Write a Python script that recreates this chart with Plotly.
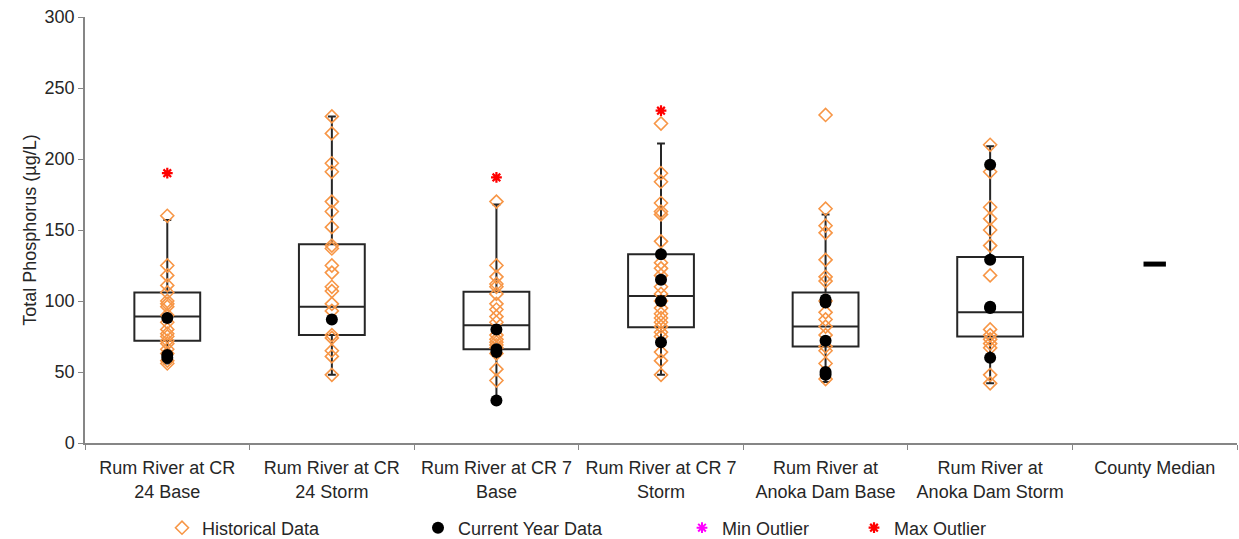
import plotly.graph_objects as go

# ---- data ----
categories = ["CR24 Base", "CR24 Storm", "CR7 Base", "CR7 Storm",
              "Anoka Base", "Anoka Storm", "County Median"]
tick_labels = ["Rum River at CR<br>24 Base", "Rum River at CR<br>24 Storm",
               "Rum River at CR 7<br>Base", "Rum River at CR 7<br>Storm",
               "Rum River at<br>Anoka Dam Base", "Rum River at<br>Anoka Dam Storm",
               "County Median"]

box_sites = categories[:6]
q1 = [72, 76, 66, 81.5, 68, 75]
median = [89, 96, 83, 103.5, 82, 92]
q3 = [106, 140, 106.5, 133, 106, 131]
lower_whisker = [56, 48, 30, 48, 43, 42]
upper_whisker = [157, 230, 168, 211, 161, 209]

historical = {
    "CR24 Base": [160, 125, 118, 111, 106, 100, 98, 96, 90, 85, 80, 77, 75, 72, 70, 66, 63, 58, 56],
    "CR24 Storm": [230, 218, 197, 191, 170, 163, 152, 139, 137, 125, 120, 110, 107, 98, 93, 76, 74, 65, 61, 48],
    "CR7 Base": [170, 125, 117, 112, 110, 105, 98, 94, 89, 85, 76, 73, 71, 69, 67, 63, 52, 44],
    "CR7 Storm": [225, 190, 184, 169, 163, 161, 142, 127, 123, 118, 110, 105, 100, 95, 91, 88, 85, 82, 78, 75, 64, 58, 48],
    "Anoka Base": [231, 165, 153, 148, 129, 117, 114, 100, 92, 87, 82, 76, 68, 65, 56, 45],
    "Anoka Storm": [210, 191, 166, 158, 150, 139, 118, 80, 76, 73, 70, 67, 48, 42],
}
current = {
    "CR24 Base": [88, 62, 60],
    "CR24 Storm": [87],
    "CR7 Base": [80, 66, 64, 30],
    "CR7 Storm": [133, 115, 100, 71],
    "Anoka Base": [101, 99, 72, 50, 48],
    "Anoka Storm": [196, 129, 96, 95, 60],
}
max_outliers = {"CR24 Base": [190], "CR7 Base": [187], "CR7 Storm": [234]}
min_outliers = {}
county_median = 126

ORANGE = "#F79646"
FONT = "Liberation Sans, Arial, sans-serif"
TXT = "#262626"

fig = go.Figure()

fig.add_trace(go.Box(
    x=box_sites, q1=q1, median=median, q3=q3,
    lowerfence=lower_whisker, upperfence=upper_whisker,
    width=0.4, whiskerwidth=0.12, boxpoints=False,
    line=dict(color="#262626", width=2), fillcolor="rgba(255,255,255,0)",
    showlegend=False, hoverinfo="skip"))

def flat(d):
    xs, ys = [], []
    for k, vals in d.items():
        xs += [k] * len(vals)
        ys += vals
    return xs, ys

hx, hy = flat(historical)
fig.add_trace(go.Scatter(x=hx, y=hy, mode="markers", name="Historical Data",
                         marker=dict(symbol="diamond-open", size=10, color=ORANGE,
                                     line=dict(width=1.6, color=ORANGE)),
                         legend="legend"))
cx, cy = flat(current)
fig.add_trace(go.Scatter(x=cx, y=cy, mode="markers", name="Current Year Data",
                         marker=dict(symbol="circle", size=12, color="black"),
                         legend="legend2"))
mnx, mny = flat(min_outliers)
fig.add_trace(go.Scatter(x=mnx if mnx else [None], y=mny if mny else [None],
                         mode="markers", name="Min Outlier",
                         marker=dict(symbol="asterisk-open", size=9, color="#FF00FF",
                                     line=dict(width=2, color="#FF00FF")),
                         legend="legend3"))
mxx, mxy = flat(max_outliers)
fig.add_trace(go.Scatter(x=mxx, y=mxy, mode="markers", name="Max Outlier",
                         marker=dict(symbol="asterisk-open", size=9, color="#FF0000",
                                     line=dict(width=2.2, color="#FF0000")),
                         legend="legend4"))
fig.add_trace(go.Scatter(x=["County Median"], y=[county_median], mode="markers",
                         showlegend=False,
                         marker=dict(symbol="line-ew-open", size=16, color="black",
                                     line=dict(width=5, color="black"))))

legend_common = dict(orientation="h", xref="container", yref="container",
                     yanchor="middle", y=1 - 528 / 539, bgcolor="rgba(0,0,0,0)",
                     font=dict(family=FONT, size=18, color=TXT),
                     itemwidth=30)
fig.update_layout(
    width=1239, height=539,
    margin=dict(l=85, r=2, t=17, b=96),
    plot_bgcolor="white", paper_bgcolor="white",
    font=dict(family=FONT, size=18, color=TXT),
    legend=dict(x=162 / 1239, **legend_common),
    legend2=dict(x=418 / 1239, **legend_common),
    legend3=dict(x=682 / 1239, **legend_common),
    legend4=dict(x=854 / 1239, **legend_common),
    xaxis=dict(type="category", categoryorder="array", categoryarray=categories,
               tickvals=categories, ticktext=tick_labels, range=[-0.5, 6.5],
               showline=True, linecolor="#868686", linewidth=1.5,
               ticks="outside", tickson="boundaries", ticklen=5, tickcolor="#868686",
               ticklabelstandoff=8,
               showgrid=False, zeroline=False,
               tickfont=dict(family=FONT, size=18, color=TXT)),
    yaxis=dict(range=[0, 300], dtick=50, showline=True, linecolor="#868686", linewidth=1.5,
               ticks="outside", ticklen=5, tickcolor="#868686", showgrid=False,
               zeroline=False,
               title=dict(text="Total Phosphorus (µg/L)", font=dict(family=FONT, size=18, color=TXT),
                          standoff=3),
               tickfont=dict(family=FONT, size=18, color=TXT)),
)

fig.write_html("out.html", config={"displayModeBar": False},
               post_script="document.body.style.margin='0';document.body.style.overflow='hidden';")
